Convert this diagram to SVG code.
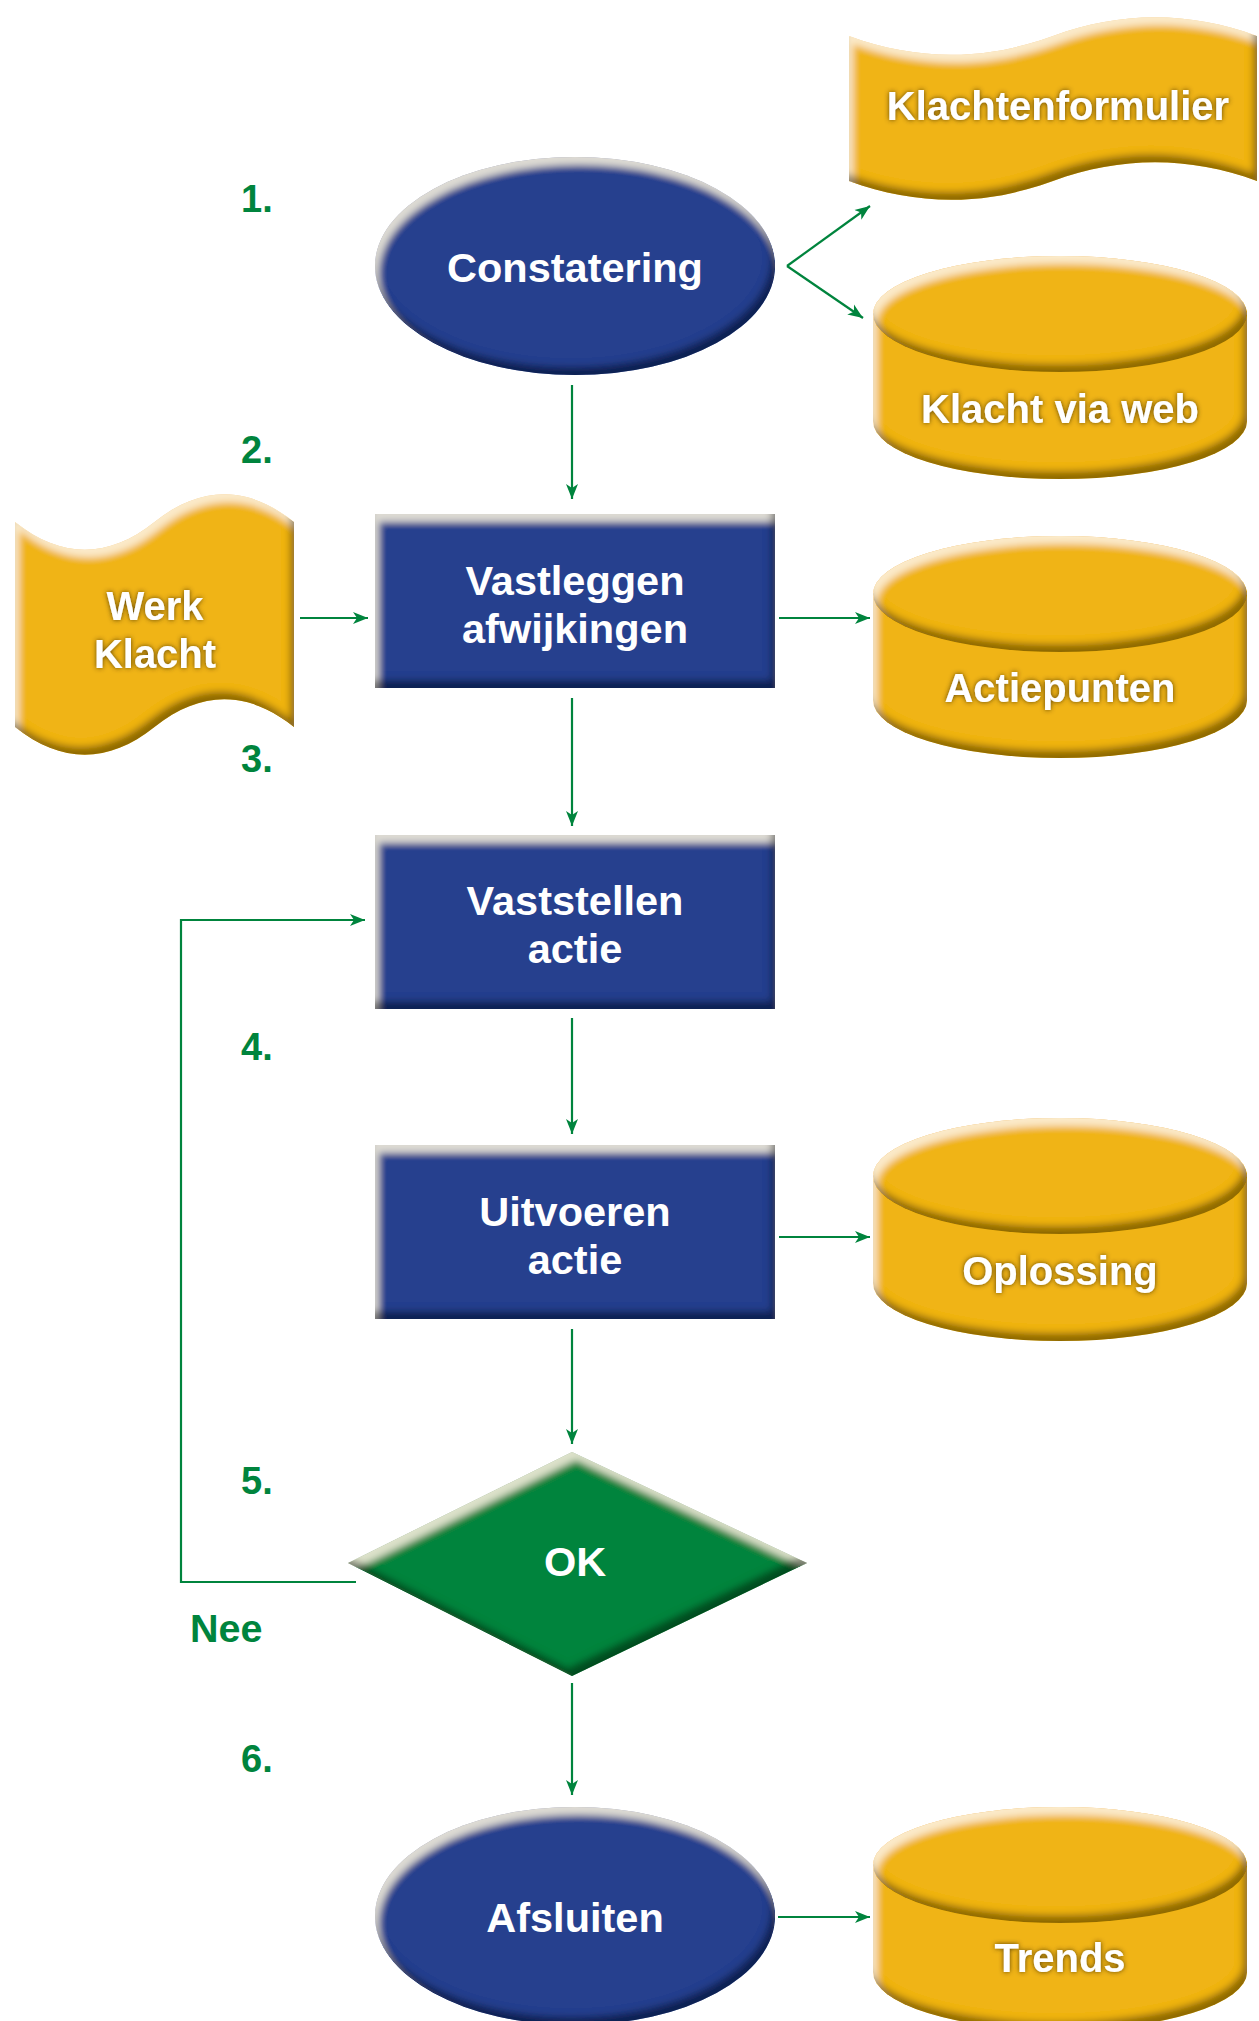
<svg xmlns="http://www.w3.org/2000/svg" width="1259" height="2021" viewBox="0 0 1259 2021">
<defs>
<style>
.t{font-family:"Liberation Sans",Arial,Helvetica,sans-serif;font-weight:bold;font-size:40px;fill:#fff;text-anchor:middle}
.tb{font-size:41.5px}
.lbl{font-family:"Liberation Sans",Arial,Helvetica,sans-serif;font-weight:bold;font-size:38px;fill:#00843D}
.blue{fill:#263F8E}
.gold{fill:#F0B414}
.green{fill:#02843E}
.c{fill:none;stroke:#00843D;stroke-width:2.2}
</style>
<filter id="bev" x="-5%" y="-5%" width="110%" height="110%">
<feGaussianBlur in="SourceAlpha" stdDeviation="3.5" result="b"/>
<feOffset in="b" dx="-4" dy="-8" result="bs"/>
<feComposite in="SourceAlpha" in2="bs" operator="arithmetic" k2="1" k3="-1" result="sh"/>
<feFlood flood-color="#000" flood-opacity="0.68"/>
<feComposite in2="sh" operator="in" result="shc"/>
<feOffset in="b" dx="4" dy="8" result="bh"/>
<feComposite in="SourceAlpha" in2="bh" operator="arithmetic" k2="1" k3="-1" result="hl"/>
<feFlood flood-color="#fffbe8" flood-opacity="0.72"/>
<feComposite in2="hl" operator="in" result="hlc"/>
<feMerge><feMergeNode in="SourceGraphic"/><feMergeNode in="hlc"/><feMergeNode in="shc"/></feMerge>
</filter>
<filter id="ts" x="-10%" y="-30%" width="120%" height="160%">
<feGaussianBlur in="SourceAlpha" stdDeviation="2.5" result="b"/>
<feFlood flood-color="#4a3300" flood-opacity="0.9"/>
<feComposite in2="b" operator="in" result="s"/>
<feMerge><feMergeNode in="s"/><feMergeNode in="SourceGraphic"/></feMerge>
</filter>
<marker id="ah" markerUnits="userSpaceOnUse" markerWidth="16" markerHeight="14" refX="15" refY="7" orient="auto">
<path d="M0,1 L15,7 L0,13 L4,7 Z" fill="#00843D"/>
</marker>
</defs>
<rect width="1259" height="2021" fill="#fff"/>

<g id="labels">
<text class="lbl" x="241" y="212">1.</text>
<text class="lbl" x="241" y="463">2.</text>
<text class="lbl" x="241" y="772">3.</text>
<text class="lbl" x="241" y="1060">4.</text>
<text class="lbl" x="241" y="1494">5.</text>
<text class="lbl" x="241" y="1772">6.</text>
<text class="lbl" x="190" y="1642" style="font-size:39.5px">Nee</text>
</g>

<g id="klachtenformulier">
<path class="gold" filter="url(#bev)" d="M849,36 C917,61 985,61 1053,36 C1121,11 1189,11 1257,36 L1257,181 C1189,156 1121,156 1053,181 C985,206 917,206 849,181 Z"/>
<text class="t" filter="url(#ts)" x="1058" y="120">Klachtenformulier</text>
</g>

<g id="constatering">
<ellipse class="blue" filter="url(#bev)" cx="575" cy="266" rx="200" ry="109"/>
<text class="t tb" x="575" y="282">Constatering</text>
</g>

<g id="klacht-via-web">
<path class="gold" filter="url(#bev)" d="M873,314 L873,421 A187,58 0 0 0 1247,421 L1247,314 A187,58 0 0 0 873,314 Z"/>
<ellipse class="gold" filter="url(#bev)" cx="1060" cy="314" rx="187" ry="58"/>
<text class="t" filter="url(#ts)" x="1060" y="423">Klacht via web</text>
</g>

<g id="werk-klacht">
<path class="gold" filter="url(#bev)" d="M15,522 C61.5,559 108,559 154.5,522 C201,485 247.5,485 294,522 L294,727 C247.5,690 201,690 154.5,727 C108,764 61.5,764 15,727 Z"/>
<text class="t" filter="url(#ts)" x="155" y="620">Werk</text>
<text class="t" filter="url(#ts)" x="155" y="668">Klacht</text>
</g>

<g id="vastleggen">
<rect class="blue" filter="url(#bev)" x="375" y="514" width="400" height="174"/>
<text class="t tb" x="575" y="595">Vastleggen</text>
<text class="t tb" x="575" y="643">afwijkingen</text>
</g>

<g id="actiepunten">
<path class="gold" filter="url(#bev)" d="M873,594 L873,700 A187,58 0 0 0 1247,700 L1247,594 A187,58 0 0 0 873,594 Z"/>
<ellipse class="gold" filter="url(#bev)" cx="1060" cy="594" rx="187" ry="58"/>
<text class="t" filter="url(#ts)" x="1060" y="702">Actiepunten</text>
</g>

<g id="vaststellen">
<rect class="blue" filter="url(#bev)" x="375" y="835" width="400" height="174"/>
<text class="t tb" x="575" y="915">Vaststellen</text>
<text class="t tb" x="575" y="963">actie</text>
</g>

<g id="uitvoeren">
<rect class="blue" filter="url(#bev)" x="375" y="1145" width="400" height="174"/>
<text class="t tb" x="575" y="1226">Uitvoeren</text>
<text class="t tb" x="575" y="1274">actie</text>
</g>

<g id="oplossing">
<path class="gold" filter="url(#bev)" d="M873,1176 L873,1283 A187,58 0 0 0 1247,1283 L1247,1176 A187,58 0 0 0 873,1176 Z"/>
<ellipse class="gold" filter="url(#bev)" cx="1060" cy="1176" rx="187" ry="58"/>
<text class="t" filter="url(#ts)" x="1060" y="1285">Oplossing</text>
</g>

<g id="ok">
<path class="green" filter="url(#bev)" d="M572,1452 L807,1563 L572,1676 L348,1563 Z"/>
<text class="t tb" x="575" y="1576">OK</text>
</g>

<g id="afsluiten">
<ellipse class="blue" filter="url(#bev)" cx="575" cy="1916" rx="200" ry="109"/>
<text class="t tb" x="575" y="1932">Afsluiten</text>
</g>

<g id="trends">
<path class="gold" filter="url(#bev)" d="M873,1865 L873,1972 A187,58 0 0 0 1247,1972 L1247,1865 A187,58 0 0 0 873,1865 Z"/>
<ellipse class="gold" filter="url(#bev)" cx="1060" cy="1865" rx="187" ry="58"/>
<text class="t" filter="url(#ts)" x="1060" y="1972">Trends</text>
</g>

<g id="connectors">
<line class="c" x1="572" y1="385" x2="572" y2="499" marker-end="url(#ah)"/>
<line class="c" x1="787" y1="266" x2="870" y2="206" marker-end="url(#ah)"/>
<line class="c" x1="787" y1="266" x2="863" y2="318" marker-end="url(#ah)"/>
<line class="c" x1="300" y1="618" x2="368" y2="618" marker-end="url(#ah)"/>
<line class="c" x1="779" y1="618" x2="870" y2="618" marker-end="url(#ah)"/>
<line class="c" x1="572" y1="698" x2="572" y2="826" marker-end="url(#ah)"/>
<polyline class="c" points="356,1582 181,1582 181,920 365,920" marker-end="url(#ah)"/>
<line class="c" x1="572" y1="1018" x2="572" y2="1134" marker-end="url(#ah)"/>
<line class="c" x1="779" y1="1237" x2="870" y2="1237" marker-end="url(#ah)"/>
<line class="c" x1="572" y1="1329" x2="572" y2="1444" marker-end="url(#ah)"/>
<line class="c" x1="572" y1="1683" x2="572" y2="1795" marker-end="url(#ah)"/>
<line class="c" x1="778" y1="1917" x2="870" y2="1917" marker-end="url(#ah)"/>
</g>
</svg>
